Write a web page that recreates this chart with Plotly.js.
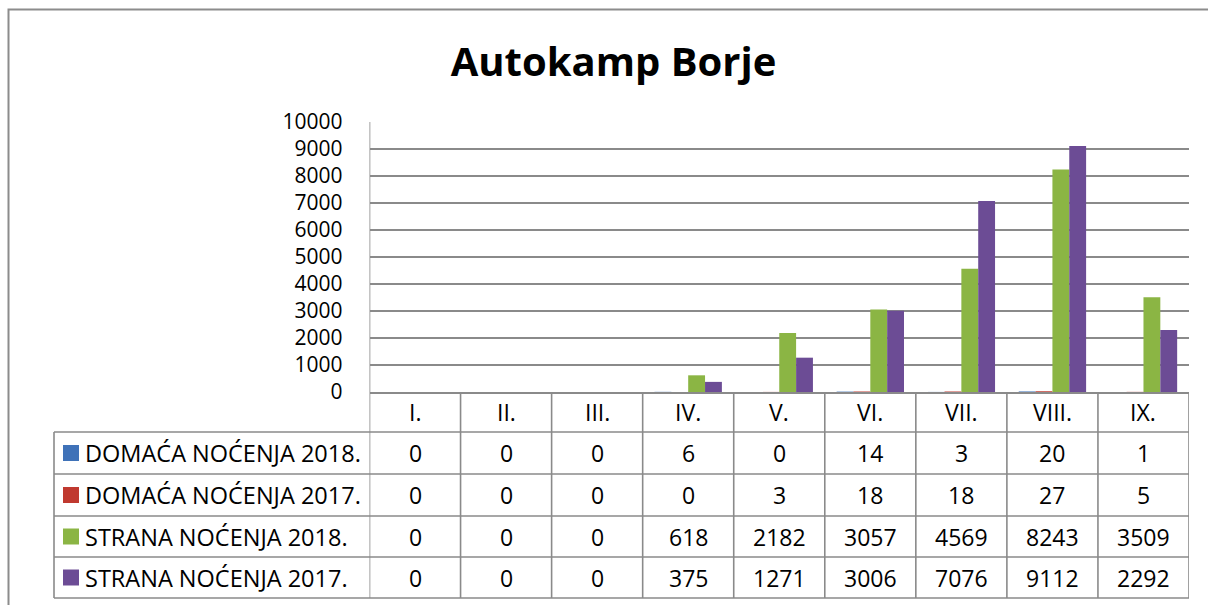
<!DOCTYPE html>
<html><head><meta charset="utf-8">
<script src="https://cdn.plot.ly/plotly-3.0.1.min.js"></script>
<style>html,body{margin:0;padding:0;background:#fff}#chart{width:1208px;height:605px}</style>
</head><body><div id="chart"></div>
<script>
const categories = ["I.","II.","III.","IV.","V.","VI.","VII.","VIII.","IX."];
const seriesNames = ["DOMAĆA NOĆENJA 2018.","DOMAĆA NOĆENJA 2017.","STRANA NOĆENJA 2018.","STRANA NOĆENJA 2017."];
const domaca2018 = [0,0,0,6,0,14,3,20,1];
const domaca2017 = [0,0,0,0,3,18,18,27,5];
const strana2018 = [0,0,0,618,2182,3057,4569,8243,3509];
const strana2017 = [0,0,0,375,1271,3006,7076,9112,2292];
const yTicks = [0,1000,2000,3000,4000,5000,6000,7000,8000,9000,10000];
const seriesValues = [domaca2018, domaca2017, strana2018, strana2017];
const colors = ["#3F72B8","#C0392F","#8BB544","#6C4C95"];

const W = 1208, H = 605;
const px = x => x / W, py = y => 1 - y / H;
const FONT = "Open Sans, Liberation Sans, sans-serif";
const GRID = "#8a8a8a";
const TXT = "#000";

const traces = seriesValues.map((vals, i) => ({
  type: "bar", name: seriesNames[i], x: categories, y: vals,
  marker: {color: colors[i], line: {width: 0}}, showlegend: false, hoverinfo: "x+y"
}));

const rowBounds = [392, 432, 474, 516, 557, 598];
const rowCenters = [453, 495, 536.5, 577.5];
const shapes = [];
const annotations = [];

// outer chart border (top and left visible)
shapes.push({type:"path", xref:"paper", yref:"paper",
  path:`M ${px(8.5)} ${py(605)} L ${px(8.5)} ${py(9.5)} L ${px(1210)} ${py(9.5)}`,
  line:{color:"#8c8c8c", width:2}});

// table horizontal lines
for (let r = 1; r < rowBounds.length; r++) {
  shapes.push({type:"line", xref:"paper", yref:"paper",
    x0:px(54), x1:px(1189), y0:py(rowBounds[r]), y1:py(rowBounds[r]),
    line:{color:GRID, width:1.6}});
}
// legend column left line
shapes.push({type:"line", xref:"paper", yref:"paper", x0:px(54), x1:px(54),
  y0:py(432), y1:py(598), line:{color:GRID, width:1.6}});
// column separators (category axis boundaries)
for (let k = 0; k <= categories.length; k++) {
  shapes.push({type:"line", xref:"x", yref:"paper", x0:k-0.5, x1:k-0.5,
    y0:py(k === 0 ? 122 : 392), y1:py(598), line:{color:GRID, width:1.6}});
}

// category header labels
categories.forEach(c => annotations.push({xref:"x", yref:"paper", x:c, y:py(412),
  text:c, showarrow:false, xanchor:"center", yanchor:"middle",
  font:{family:FONT, size:23, color:TXT}}));

// series rows
seriesNames.forEach((name, s) => {
  shapes.push({type:"rect", xref:"paper", yref:"paper",
    x0:px(63), x1:px(79), y0:py(rowCenters[s]-8), y1:py(rowCenters[s]+8),
    fillcolor:colors[s], line:{width:0}});
  annotations.push({xref:"paper", yref:"paper", x:px(83), y:py(rowCenters[s]),
    text:name, showarrow:false, xanchor:"left", yanchor:"middle",
    font:{family:FONT, size:23.5, color:TXT}});
  seriesValues[s].forEach((v, i) => annotations.push({xref:"x", yref:"paper",
    x:categories[i], y:py(rowCenters[s]), text:String(v), showarrow:false,
    xanchor:"center", yanchor:"middle", font:{family:FONT, size:23, color:TXT}}));
});

const layout = {
  width: W, height: H,
  margin: {l:0, r:0, t:0, b:0},
  paper_bgcolor: "#fff", plot_bgcolor: "#fff",
  title: {text: "<b>Autokamp Borje</b>", x: px(613.5), xref:"paper", xanchor:"center",
    y: py(62), yref:"paper", yanchor:"middle",
    font: {family: FONT, size: 40, color: "#000"}},
  barmode: "group", bargap: 0.26, bargroupgap: 0,
  xaxis: {domain:[px(369.5), px(1189)], type:"category", range:[-0.5, 8.5],
    showticklabels:false, showgrid:false, zeroline:false, showline:true,
    linecolor:GRID, linewidth:1.6, ticks:"", fixedrange:true},
  yaxis: {domain:[py(392), py(122)], range:[0, 10000], tickvals: yTicks,
    ticktext: yTicks.map(String), showgrid:true, gridcolor:GRID, gridwidth:1.6,
    zeroline:false, showline:false, ticks:"", ticklabelstandoff:26,
    tickfont:{family:FONT, size:21, color:TXT}, fixedrange:true},
  shapes, annotations
};

Plotly.newPlot("chart", traces, layout, {displayModeBar:false, staticPlot:true});
</script></body></html>
